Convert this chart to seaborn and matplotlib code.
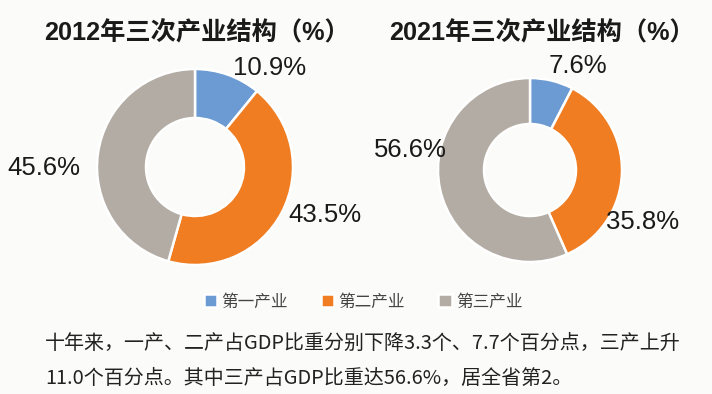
import matplotlib
matplotlib.use('Agg')
import matplotlib.pyplot as plt
import seaborn as sns

# data
categories = ['第一产业', '第二产业', '第三产业']
share_2012 = [10.9, 43.5, 45.6]
share_2021 = [7.6, 35.8, 56.6]
titles = ['2012年三次产业结构（%）', '2021年三次产业结构（%）']
caption_lines = ['十年来，一产、二产占GDP比重分别下降3.3个、7.7个百分点，三产上升',
                 '11.0个百分点。其中三产占GDP比重达56.6%，居全省第2。']

sns.set_theme(style='white')
plt.rcParams['font.family'] = ['Liberation Sans', 'Noto Sans CJK SC', 'DejaVu Sans']
palette = sns.color_palette(['#6b9bd2', '#f07d22', '#b2aca4'])

W, H = 712, 394
bg = '#fbfbf9'
fig = plt.figure(figsize=(W / 100, H / 100), dpi=100, facecolor=bg)


def donut(cx, cy, r, values, label_pos):
    # axes box is exactly the circle in pixels
    ax = fig.add_axes([(cx - r) / W, 1 - (cy + r) / H, 2 * r / W, 2 * r / H])
    wedges, _ = ax.pie(values, colors=palette, startangle=90, counterclock=False,
                       wedgeprops=dict(width=0.5, edgecolor='white', linewidth=1.8))
    ax.set_xlim(-1, 1)
    ax.set_ylim(-1, 1)
    ax.axis('off')
    for v, (x, y, ha) in zip(values, label_pos):
        ax.text(x, y, f'{v}%', ha=ha, va='center', fontsize=18.5,
                color='#1a1a1a', clip_on=False)
    return wedges


wedges = donut(195, 167, 98, share_2012,
               [(0.39, 1.01, 'left'), (0.95, -0.49, 'left'), (-1.17, -0.01, 'right')])
donut(530, 170, 92, share_2021,
      [(0.20, 1.13, 'left'), (0.83, -0.57, 'left'), (-0.90, 0.22, 'right')])

fig.text(197 / W, 1 - 33 / H, titles[0], ha='center', va='center',
         fontsize=18.2, fontweight='bold', color='#1a1a1a')
fig.text(542 / W, 1 - 33 / H, titles[1], ha='center', va='center',
         fontsize=18.2, fontweight='bold', color='#1a1a1a')

fig.legend(wedges, categories, loc='center', bbox_to_anchor=(363 / W, 1 - 302 / H),
           ncol=3, frameon=False, handlelength=0.8, handleheight=0.8,
           handletextpad=0.25, columnspacing=2.0, labelcolor='#444444',
           prop={'family': ['Noto Sans CJK SC'], 'size': 12})

fig.text(45 / W, 1 - 343 / H, caption_lines[0], ha='left', va='center',
         fontsize=14.4, color='#222222', family=['Noto Sans CJK SC'])
fig.text(45 / W, 1 - 378 / H, caption_lines[1], ha='left', va='center',
         fontsize=14.4, color='#222222', family=['Noto Sans CJK SC'])

fig.savefig('out.png', dpi=100, facecolor=bg)
